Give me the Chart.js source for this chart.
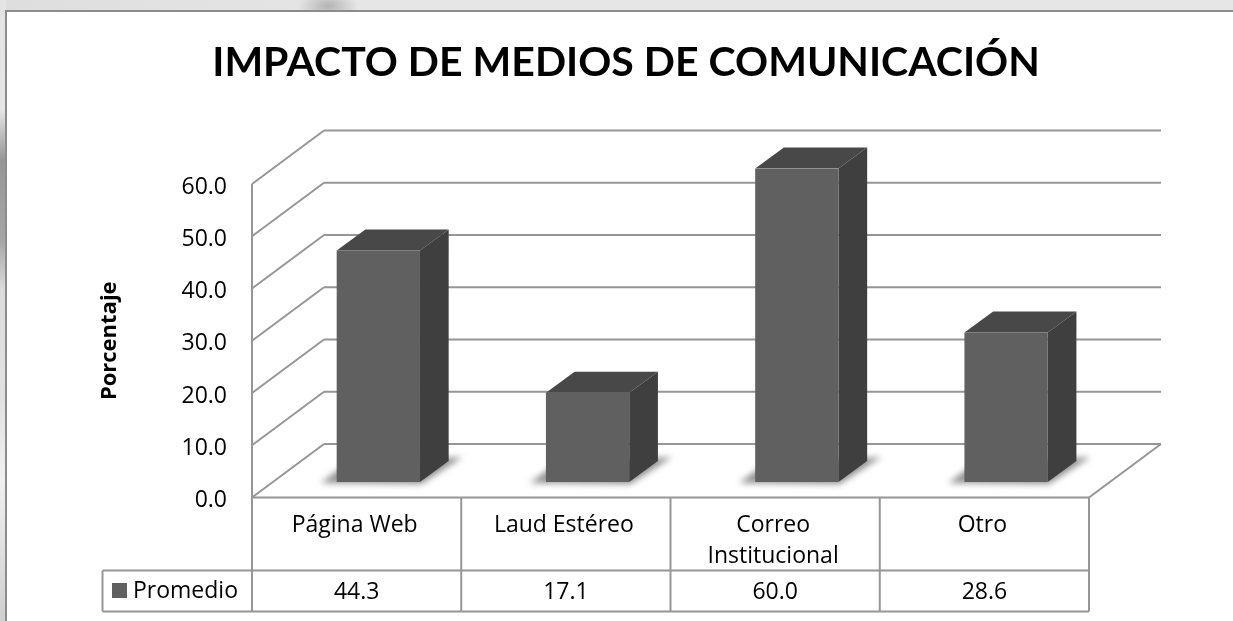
<!DOCTYPE html>
<html>
<head>
<meta charset="utf-8">
<style>
  html, body { margin: 0; padding: 0; width: 1233px; height: 621px; overflow: hidden; }
  body {
    background:
      radial-gradient(ellipse 30px 16px at 328px 6px, #b4b4b4, rgba(180,180,180,0)),
      linear-gradient(90deg, #dedede, #e6e6e6 30%);
  }
  #strip {
    position: absolute; left: 0; top: 0; width: 6px; height: 621px;
    background: linear-gradient(#e4e4e4 0, #e6e6e6 110px, #969696 160px, #a6a6a6 240px, #dcdcdc 290px, #e2e2e2 400px, #f0f0f0 480px, #cfcfcf 621px);
  }
  #frame {
    position: absolute; left: 5px; top: 10px; width: 1240px; height: 640px;
    background: #fff; border: 2px solid #8c8c8c; box-sizing: border-box;
  }
  canvas { position: absolute; left: 0; top: 0; }
</style>
</head>
<body>
<div id="strip"></div>
<div id="frame"></div>
<canvas id="chart" width="1233" height="621"></canvas>
<script src="https://cdn.jsdelivr.net/npm/chart.js@4"></script>
<script>
const chartTitle = 'IMPACTO DE MEDIOS DE COMUNICACIÓN';
const categories = ['Página Web', 'Laud Estéreo', ['Correo', 'Institucional'], 'Otro'];
const promedio = [44.3, 17.1, 60.0, 28.6];
const seriesName = 'Promedio';
const yTicks = [0, 10, 20, 30, 40, 50, 60];

const FONT = '"Open Sans", sans-serif';
const LINE = '#969696';

// how far the back wall sits behind the front plane
const wallDx = 72, wallDy = -53.5;
// bars stand a bit inside the floor, and have their own depth
const barDx = 21.7, barDy = -15.5;
const depthX = 28.7, depthY = -21;

function line(c, x1, y1, x2, y2) {
  c.beginPath();
  c.moveTo(x1, y1);
  c.lineTo(x2, y2);
  c.stroke();
}

function poly(c, pts, fill) {
  c.beginPath();
  pts.forEach((p, i) => i ? c.lineTo(p[0], p[1]) : c.moveTo(p[0], p[1]));
  c.closePath();
  c.fillStyle = fill;
  c.fill();
}

const wallPlugin = {
  id: 'wall',
  beforeDatasetsDraw(chart) {
    const c = chart.ctx, y = chart.scales.y, a = chart.chartArea;
    c.save();
    c.strokeStyle = LINE;
    c.lineWidth = 2;
    yTicks.forEach(v => {
      const py = y.getPixelForValue(v);
      line(c, a.left, py, a.left + wallDx, py + wallDy);
      line(c, a.left + wallDx, py + wallDy, a.right + wallDx, py + wallDy);
    });
    line(c, a.left, a.top, a.left, a.bottom);
    line(c, a.left, a.bottom, a.right, a.bottom);
    line(c, a.right, a.bottom, a.right + wallDx, a.bottom + wallDy);
    c.restore();

    // floor shadow, then the top and side of each bar, then the library draws the front
    const bars = chart.getDatasetMeta(0).data;
    bars.forEach(b => {
      const l = b.x - b.width / 2 + barDx, r = b.x + b.width / 2 + barDx;
      const bot = b.base + barDy;
      c.save();
      c.filter = 'blur(3px)';
      poly(c, [[l - 16, bot + 1], [l + 10, bot - 18], [r + depthX + 14, bot + depthY - 4], [r + 1, bot + 2]], '#909090');
      c.restore();
    });
    bars.forEach(b => {
      const l = b.x - b.width / 2 + barDx, r = b.x + b.width / 2 + barDx;
      const top = b.y + barDy, bot = b.base + barDy;
      poly(c, [[l, top], [l + depthX, top + depthY], [r + depthX, top + depthY], [r, top]], '#484848');
      poly(c, [[r, top], [r + depthX, top + depthY], [r + depthX, bot + depthY], [r, bot]], '#3f3f3f');
    });
    c.save();
    c.translate(barDx, barDy);
  },
  afterDatasetsDraw(chart) {
    chart.ctx.restore();
  }
};

const tablePlugin = {
  id: 'dataTable',
  afterDraw(chart) {
    const c = chart.ctx, a = chart.chartArea, x = chart.scales.x;
    const rowY = 570.5, botY = 611.5, keyX = 102.5;
    c.save();
    c.strokeStyle = LINE;
    c.lineWidth = 2;
    line(c, keyX, rowY, a.right, rowY);
    line(c, keyX, botY, a.right, botY);
    line(c, keyX, rowY, keyX, botY);
    line(c, a.left, a.bottom, a.left, botY);
    const step = (a.right - a.left) / categories.length;
    for (let i = 1; i <= categories.length; i++) {
      line(c, a.left + step * i, a.bottom, a.left + step * i, botY);
    }
    c.fillStyle = '#606060';
    c.fillRect(112, 583, 15, 15);
    c.fillStyle = '#000';
    c.font = '23px ' + FONT;
    c.textBaseline = 'middle';
    c.textAlign = 'left';
    c.fillText(seriesName, 133, 591);
    c.textAlign = 'center';
    promedio.forEach((v, i) => c.fillText(v.toFixed(1), x.getPixelForTick(i), 592));

    c.font = 'bold 41px Lato, sans-serif';
    c.fillText(chartTitle, 626, 63);
    c.restore();
  }
};

new Chart(document.getElementById('chart').getContext('2d'), {
  type: 'bar',
  data: {
    labels: categories,
    datasets: [{
      label: seriesName,
      data: promedio,
      backgroundColor: '#606060',
      categoryPercentage: 1,
      barPercentage: 0.398
    }]
  },
  plugins: [wallPlugin, tablePlugin],
  options: {
    responsive: false,
    animation: false,
    layout: { padding: { left: 97, right: 144, top: 184, bottom: 0 } },
    plugins: {
      legend: { display: false },
      tooltip: { enabled: false },
      title: { display: false }
    },
    scales: {
      x: {
        grid: { display: false, drawTicks: false },
        border: { display: false },
        ticks: {
          color: '#000',
          font: { family: FONT, size: 23, lineHeight: 1.35 },
          padding: 12,
          labelOffset: -2,
          maxRotation: 0,
          autoSkip: false
        },
        afterFit(s) { s.height = 123.5; }
      },
      y: {
        min: 0,
        max: 60,
        grid: { display: false, drawTicks: false },
        border: { display: false },
        title: {
          display: true,
          text: 'Porcentaje',
          color: '#000',
          font: { family: FONT, size: 22, weight: 'bold' },
          padding: 0
        },
        ticks: {
          stepSize: 10,
          color: '#000',
          font: { family: FONT, size: 23 },
          padding: 25,
          labelOffset: 3,
          callback: v => v.toFixed(1)
        },
        afterFit(s) { s.width = 155; }
      }
    }
  }
});
</script>
</body>
</html>
